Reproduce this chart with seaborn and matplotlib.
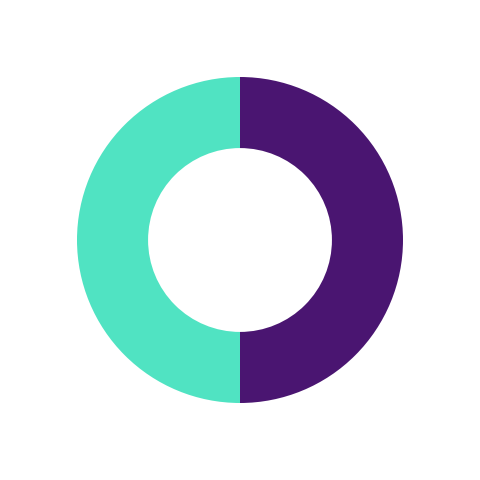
import matplotlib
matplotlib.use("Agg")
import matplotlib.pyplot as plt
import seaborn as sns

categories = ["A", "B"]
values = [50, 50]
colors = ["#4a1571", "#50e3c2"]

sns.set_theme(style="white")
fig = plt.figure(figsize=(4.8, 4.8), dpi=100)
ax = fig.add_axes([0, 0, 1, 1])
ax.pie(values, labels=None, colors=colors, startangle=90, counterclock=False,
       radius=1.0, wedgeprops=dict(width=0.436, edgecolor="none", linewidth=0))
lim = 240 / 163
ax.set_xlim(-lim, lim)
ax.set_ylim(-lim, lim)
ax.set_aspect("equal")
ax.axis("off")
fig.savefig("out.png", dpi=100, facecolor="white")
